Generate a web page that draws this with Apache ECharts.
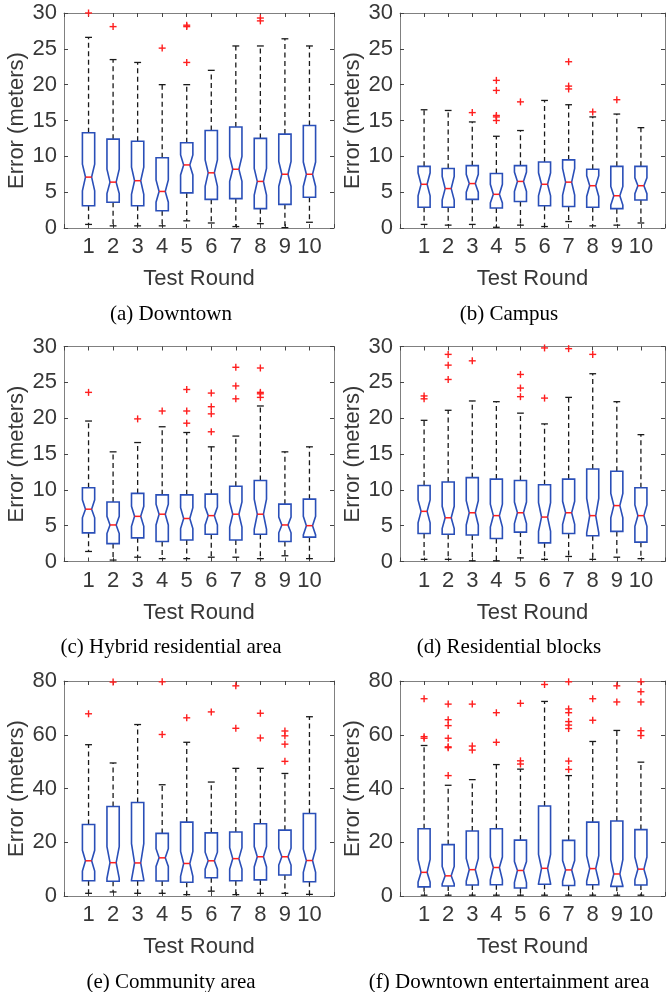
<!DOCTYPE html>
<html>
<head>
<meta charset="utf-8">
<script src="https://cdn.jsdelivr.net/npm/echarts@6/dist/echarts.min.js"></script>
<style>
  html, body { margin: 0; padding: 0; background: #fff; }
  #main { width: 668px; height: 992px; }
</style>
</head>
<body>
<div id="main"></div>
<script type="text/javascript">
// each box row: [lower whisker, q1, notch low, median, notch high, q3, upper whisker]
var downtownBoxes = [
    [0.5, 3.1, 5.2, 7.1, 8.9, 13.3, 26.6],
    [0.3, 3.6, 4.8, 6.4, 8.2, 12.4, 23.5],
    [0.3, 3.1, 4.7, 6.6, 8.5, 12.1, 23.1],
    [0.3, 2.4, 3.6, 5.1, 6.7, 9.8, 20.0],
    [1.0, 4.9, 7.4, 8.8, 10.2, 11.9, 20.0],
    [0.7, 4.0, 5.8, 7.7, 9.5, 13.6, 22.0],
    [0.2, 4.1, 6.5, 8.2, 10.0, 14.1, 25.4],
    [0.6, 2.7, 4.6, 6.5, 8.3, 12.5, 25.4],
    [0.05, 3.3, 5.8, 7.5, 9.3, 13.1, 26.4],
    [0.8, 4.3, 5.8, 7.5, 9.2, 14.3, 25.4]
];
var downtownOutliers = [[1, 30.0], [2, 28.1], [4, 25.1], [5, 28.3], [5, 28.1], [5, 23.1], [8, 29.3], [8, 28.9]];

var campusBoxes = [
    [0.5, 2.9, 4.5, 6.1, 7.7, 8.6, 16.5],
    [0.4, 2.9, 3.9, 5.5, 7.2, 8.3, 16.4],
    [0.5, 4.0, 5.0, 6.2, 7.5, 8.7, 14.8],
    [0.1, 2.8, 3.5, 4.7, 6.1, 7.6, 12.8],
    [0.4, 3.7, 5.1, 6.5, 7.8, 8.7, 13.6],
    [0.2, 3.1, 4.5, 6.1, 7.7, 9.2, 17.8],
    [0.9, 3.0, 4.6, 6.4, 8.3, 9.5, 17.2],
    [0.3, 2.9, 4.4, 5.9, 7.3, 8.2, 15.5],
    [0.4, 2.7, 3.2, 4.5, 5.8, 8.6, 15.9],
    [0.7, 3.9, 4.8, 5.9, 7.0, 8.6, 14.0]
];
var campusOutliers = [[3, 16.1], [4, 20.6], [4, 19.2], [4, 15.7], [4, 15.5], [4, 15.0], [5, 17.6],
    [7, 23.2], [7, 19.8], [7, 19.4], [8, 16.2], [9, 17.9]];

var hybridBoxes = [
    [1.4, 4.0, 6.1, 7.3, 8.6, 10.3, 19.6],
    [0.2, 2.5, 3.9, 5.1, 6.3, 8.3, 15.3],
    [0.6, 3.3, 4.9, 6.3, 7.7, 9.5, 16.6],
    [0.4, 2.8, 5.1, 6.6, 8.0, 9.3, 18.8],
    [0.4, 3.0, 4.6, 6.0, 7.5, 9.3, 18.0],
    [0.6, 3.8, 5.1, 6.4, 7.6, 9.4, 16.0],
    [0.6, 3.0, 4.8, 6.6, 8.3, 10.5, 17.5],
    [0.4, 3.8, 4.5, 6.6, 8.7, 11.3, 21.7],
    [0.8, 2.8, 4.0, 5.1, 6.2, 8.0, 15.3],
    [0.4, 3.4, 3.7, 5.0, 6.3, 8.7, 16.0]
];
var hybridOutliers = [[1, 23.6], [3, 19.9], [4, 21.0], [5, 24.0], [5, 21.0], [5, 19.3],
    [6, 23.5], [6, 21.6], [6, 20.6], [6, 18.1], [7, 27.1], [7, 24.5], [7, 22.7],
    [8, 27.0], [8, 23.6], [8, 23.4], [8, 22.9]];

var residentialBoxes = [
    [0.3, 3.9, 5.4, 7.0, 8.6, 10.6, 19.7],
    [0.3, 3.8, 4.6, 6.1, 7.7, 11.1, 21.1],
    [0.1, 3.7, 5.1, 6.8, 8.5, 11.7, 22.4],
    [0.1, 3.2, 4.8, 6.4, 8.0, 11.5, 22.3],
    [0.5, 4.1, 5.3, 6.8, 8.3, 11.3, 20.7],
    [0.3, 2.6, 4.2, 6.2, 8.2, 10.7, 19.2],
    [0.7, 3.9, 5.2, 6.8, 8.4, 11.5, 22.9],
    [0.3, 3.6, 4.0, 6.4, 8.8, 12.9, 26.2],
    [0.6, 4.2, 6.1, 7.8, 9.5, 12.6, 22.3],
    [0.4, 2.7, 4.9, 6.4, 7.9, 10.3, 17.7]
];
var residentialOutliers = [[1, 23.1], [1, 22.7], [2, 28.9], [2, 27.4], [2, 25.4], [3, 28.0],
    [5, 26.1], [5, 24.2], [5, 23.0], [6, 29.8], [6, 22.8], [7, 29.7], [8, 28.9]];

var communityBoxes = [
    [1.0, 5.7, 9.3, 13.1, 17.0, 26.6, 56.3],
    [1.5, 5.5, 6.6, 12.4, 18.4, 33.3, 49.5],
    [1.0, 5.7, 6.0, 12.3, 19.5, 34.8, 63.8],
    [1.0, 5.6, 11.0, 14.2, 17.6, 23.3, 41.4],
    [0.5, 5.1, 7.3, 12.1, 16.6, 27.5, 57.2],
    [1.8, 6.8, 10.0, 13.1, 16.3, 23.5, 42.4],
    [0.5, 5.7, 10.0, 13.9, 18.0, 23.8, 47.5],
    [1.0, 6.0, 10.8, 14.6, 18.4, 26.9, 47.5],
    [1.0, 7.8, 11.5, 14.6, 17.8, 24.5, 45.6],
    [0.6, 5.3, 8.8, 13.2, 17.4, 30.7, 66.7]
];
var communityOutliers = [[1, 67.8], [2, 79.6], [4, 79.7], [4, 60.1], [5, 66.3], [6, 68.5],
    [7, 78.2], [7, 62.4], [8, 68.0], [8, 58.8], [9, 61.4], [9, 59.6], [9, 56.5], [9, 50.1]];

var entertainmentBoxes = [
    [0.3, 3.4, 5.2, 8.8, 13.6, 25.0, 56.0],
    [0.3, 3.7, 4.5, 7.5, 11.0, 19.1, 41.2],
    [0.3, 4.1, 5.5, 9.8, 14.0, 24.2, 43.3],
    [0.3, 4.2, 6.0, 10.6, 14.5, 25.0, 48.9],
    [0.3, 3.0, 5.0, 9.5, 12.8, 20.8, 47.2],
    [0.3, 4.4, 4.6, 10.3, 15.5, 33.5, 72.4],
    [0.3, 3.9, 5.5, 9.7, 13.2, 20.7, 44.8],
    [0.3, 4.2, 5.5, 10.2, 15.0, 27.5, 57.5],
    [0.3, 3.6, 3.8, 8.2, 13.5, 27.9, 61.6],
    [0.3, 4.1, 6.0, 10.0, 14.5, 24.7, 49.8]
];
var entertainmentOutliers = [[1, 73.4], [1, 59.3], [1, 58.7],
    [2, 71.4], [2, 65.6], [2, 63.4], [2, 58.7], [2, 55.5], [2, 55.2], [2, 44.8],
    [3, 71.4], [3, 55.8], [3, 54.3], [4, 68.2], [4, 57.2], [5, 71.7], [5, 50.3], [5, 49.1],
    [6, 78.7], [7, 79.7], [7, 69.6], [7, 68.2], [7, 64.9], [7, 63.6], [7, 62.3], [7, 50.2], [7, 47.1],
    [8, 73.4], [8, 65.4], [9, 78.2], [9, 72.2], [10, 79.7], [10, 76.0], [10, 72.2], [10, 61.5], [10, 59.7]];

var captions = ['(a) Downtown', '(b) Campus', '(c) Hybrid residential area',
    '(d) Residential blocks', '(e) Community area', '(f) Downtown entertainment area'];
var yMax = [30, 30, 30, 30, 80, 80];
var yStep = [5, 5, 5, 5, 20, 20];

var allBoxes = [downtownBoxes, campusBoxes, hybridBoxes, residentialBoxes, communityBoxes, entertainmentBoxes];
var allOutliers = [downtownOutliers, campusOutliers, hybridOutliers, residentialOutliers, communityOutliers, entertainmentOutliers];

// layout (pixels)
var colLeft = [64, 400];
var rowTop = [13, 346.5, 681];
var plotW = 270, plotH = 215;
var capX = [171, 509];

var textColor = '#383838';
var frameColor = '#808080';
var boxColor = '#2a4fb8';
var redColor = '#ff1f1f';
var sansFont = 'Liberation Sans';

function renderBox(params, api) {
    var x = api.value(0);
    var hw = api.size([0.5, 0])[0] / 2;
    var nw = hw / 2;
    var cw = api.size([0.28, 0])[0] / 2;
    function py(v) { return api.coord([x, v])[1]; }
    var cx = api.coord([x, 0])[0];
    var low = py(api.value(1)), q1 = py(api.value(2)), nlo = py(api.value(3)),
        med = py(api.value(4)), nhi = py(api.value(5)), q3 = py(api.value(6)), high = py(api.value(7));
    var dash = {stroke: '#1a1a1a', lineWidth: 1.3, lineDash: [5, 3.5]};
    var cap = {stroke: '#1a1a1a', lineWidth: 1.3};
    return {
        type: 'group',
        children: [
            {type: 'line', shape: {x1: cx, y1: q3, x2: cx, y2: high}, style: dash},
            {type: 'line', shape: {x1: cx, y1: q1, x2: cx, y2: low}, style: dash},
            {type: 'line', shape: {x1: cx - cw, y1: high, x2: cx + cw, y2: high}, style: cap},
            {type: 'line', shape: {x1: cx - cw, y1: low, x2: cx + cw, y2: low}, style: cap},
            {
                type: 'polygon',
                shape: {points: [
                    [cx - hw, q3], [cx + hw, q3], [cx + hw, nhi], [cx + nw, med], [cx + hw, nlo],
                    [cx + hw, q1], [cx - hw, q1], [cx - hw, nlo], [cx - nw, med], [cx - hw, nhi]
                ]},
                style: {fill: 'none', stroke: boxColor, lineWidth: 1.6}
            },
            {type: 'line', shape: {x1: cx - nw, y1: med, x2: cx + nw, y2: med}, style: {stroke: redColor, lineWidth: 1.5}}
        ]
    };
}

function renderOutlier(params, api) {
    var p = api.coord([api.value(0), api.value(1)]);
    var s = 3.5;
    var st = {stroke: redColor, lineWidth: 1.4};
    return {
        type: 'group',
        children: [
            {type: 'line', shape: {x1: p[0] - s, y1: p[1], x2: p[0] + s, y2: p[1]}, style: st},
            {type: 'line', shape: {x1: p[0], y1: p[1] - s, x2: p[0], y2: p[1] + s}, style: st}
        ]
    };
}

var grids = [], xAxes = [], yAxes = [], series = [], graphics = [];

for (var i = 0; i < 6; i++) {
    var col = i % 2, row = Math.floor(i / 2);
    grids.push({left: colLeft[col], top: rowTop[row], width: plotW, height: plotH});

    var tickStyle = {show: true, inside: true, length: 4, lineStyle: {color: '#444', width: 1}};
    var lineStyle = {show: true, onZero: false, lineStyle: {color: frameColor, width: 1}};

    xAxes.push({
        type: 'value', gridIndex: i, min: 0, max: 11, interval: 1,
        axisLine: lineStyle, axisTick: tickStyle, splitLine: {show: false},
        axisLabel: {
            margin: 8, fontSize: 22, color: textColor, fontFamily: sansFont,
            formatter: function (v) { return (v >= 1 && v <= 10) ? String(v) : ''; }
        },
        name: 'Test Round', nameLocation: 'middle', nameGap: 40,
        nameTextStyle: {fontSize: 22, color: textColor, fontFamily: sansFont}
    });
    xAxes.push({
        type: 'value', gridIndex: i, position: 'top', min: 0, max: 11, interval: 1,
        axisLine: lineStyle, axisTick: tickStyle, splitLine: {show: false},
        axisLabel: {show: false}
    });
    yAxes.push({
        type: 'value', gridIndex: i, min: 0, max: yMax[i], interval: yStep[i],
        axisLine: lineStyle, axisTick: tickStyle, splitLine: {show: false},
        axisLabel: {margin: 7, fontSize: 22, color: textColor, fontFamily: sansFont},
        name: 'Error (meters)', nameLocation: 'middle', nameGap: 36,
        nameTextStyle: {fontSize: 22, color: textColor, fontFamily: sansFont}
    });
    yAxes.push({
        type: 'value', gridIndex: i, position: 'right', min: 0, max: yMax[i], interval: yStep[i],
        axisLine: lineStyle, axisTick: tickStyle, splitLine: {show: false},
        axisLabel: {show: false}
    });

    series.push({
        type: 'custom',
        xAxisIndex: 2 * i, yAxisIndex: 2 * i,
        renderItem: renderBox,
        encode: {x: 0, y: [1, 2, 3, 4, 5, 6, 7]},
        data: allBoxes[i].map(function (r, k) { return [k + 1].concat(r); }),
        silent: true
    });
    series.push({
        type: 'custom',
        xAxisIndex: 2 * i, yAxisIndex: 2 * i,
        renderItem: renderOutlier,
        encode: {x: 0, y: 1},
        data: allOutliers[i],
        silent: true
    });

    graphics.push({
        type: 'text',
        x: capX[col],
        y: rowTop[row] + plotH + 86,
        style: {
            text: captions[i], fill: '#000',
            font: '21px "Liberation Serif"',
            align: 'center', verticalAlign: 'middle'
        }
    });
}

var myChart = echarts.init(document.getElementById('main'));
var option = {
    animation: false,
    grid: grids,
    xAxis: xAxes,
    yAxis: yAxes,
    series: series,
    graphic: graphics
};
myChart.setOption(option);
</script>
</body>
</html>
